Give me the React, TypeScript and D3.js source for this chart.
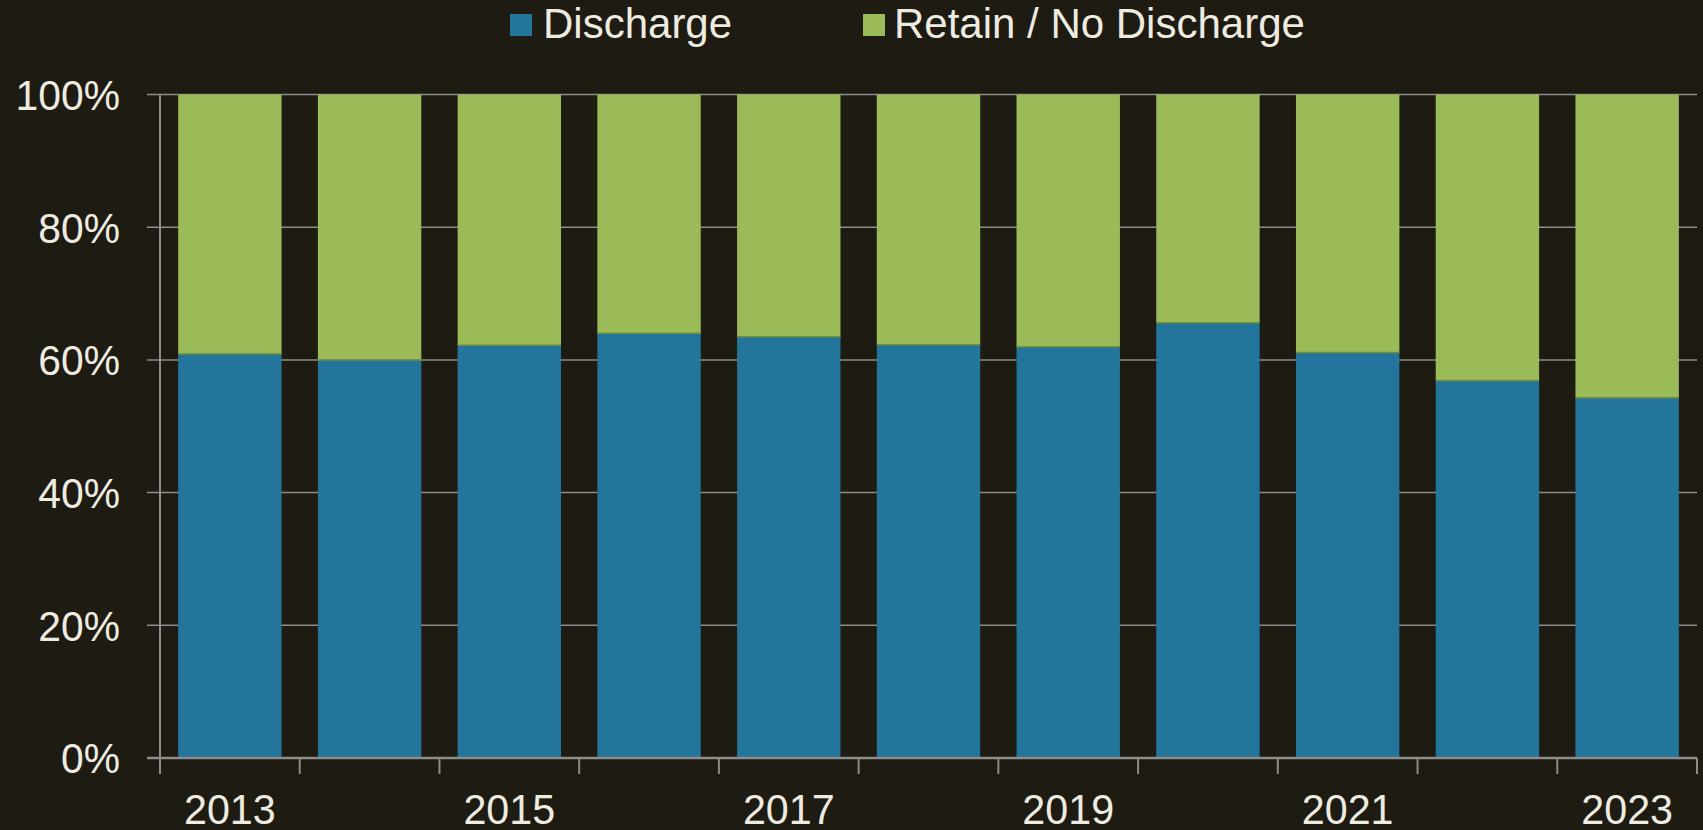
import React from "react";
import * as d3 from "d3";

const years = ["2013", "2014", "2015", "2016", "2017", "2018", "2019", "2020", "2021", "2022", "2023"];
const discharge = [60.9, 60.0, 62.2, 64.0, 63.5, 62.3, 62.0, 65.6, 61.1, 56.9, 54.3];
const yTicks = [0, 20, 40, 60, 80, 100];
const xLabelYears = ["2013", "2015", "2017", "2019", "2021", "2023"];
const seriesNames = ["Discharge", "Retain / No Discharge"];

const W = 1703;
const H = 830;
const BG = "#1e1b12";
const BLUE = "#23759b";
const GREEN = "#9bbb59";
const TEXT = "#eeece1";
const GRID = "#8c8c8c";
const FONT = "'Liberation Sans', Arial, sans-serif";

export default function App() {
  const left = 160;
  const right = 1697;
  const top = 94.5;
  const bottom = 758;

  const x = d3.scaleBand<string>().domain(years).range([left, right]).paddingInner(0.26).paddingOuter(0.13);
  const y = d3.scaleLinear().domain([0, 100]).range([bottom, top]);
  const step = x.step();
  const boundaries = d3.range(years.length + 1).map((i) => left + i * step);

  return (
    <svg width={W} height={H} style={{ position: "absolute", left: 0, top: 0, display: "block" }}>
      <rect x={0} y={0} width={W} height={H} fill={BG} />
      {/* gridlines */}
      {yTicks.filter((t) => t > 0).map((t) => (
        <line key={"g" + t} x1={left - 13} x2={right} y1={y(t)} y2={y(t)} stroke={GRID} strokeWidth={1.5} />
      ))}
      {/* bars */}
      {years.map((yr, i) => (
        <g key={yr}>
          <rect x={x(yr)} width={x.bandwidth()} y={y(discharge[i])} height={y(0) - y(discharge[i])} fill={BLUE} />
          <rect
            x={x(yr)}
            width={x.bandwidth()}
            y={y(100)}
            height={y(discharge[i]) - y(100)}
            fill={GREEN}
          />
          <line
            x1={x(yr)}
            x2={(x(yr) as number) + x.bandwidth()}
            y1={y(discharge[i])}
            y2={y(discharge[i])}
            stroke="#6f8f3c"
            strokeWidth={1.5}
          />
        </g>
      ))}
      {/* y axis */}
      <line x1={left} x2={left} y1={top} y2={bottom} stroke={GRID} strokeWidth={2} />
      {yTicks.map((t) => (
        <text
          key={"yl" + t}
          transform={`translate(${left - 40},${y(t)}) scale(0.95,1)`}
          dy="0.36em"
          textAnchor="end"
          fill={TEXT}
          fontFamily={FONT}
          fontSize={43}
        >
          {t + "%"}
        </text>
      ))}
      {/* x axis */}
      <line x1={left - 13} x2={right} y1={bottom} y2={bottom} stroke={GRID} strokeWidth={2.5} />
      {boundaries.map((b, i) => (
        <line key={"xt" + i} x1={b} x2={b} y1={bottom} y2={bottom + 16} stroke={GRID} strokeWidth={2} />
      ))}
      {xLabelYears.map((yr) => (
        <text
          key={"xl" + yr}
          transform={`translate(${(x(yr) as number) + x.bandwidth() / 2},824) scale(0.96,1)`}
          textAnchor="middle"
          fill={TEXT}
          fontFamily={FONT}
          fontSize={43}
        >
          {yr}
        </text>
      ))}
      {/* legend */}
      <rect x={510} y={14} width={22} height={22} fill={BLUE} />
      <text x={543} y={38} fill={TEXT} fontFamily={FONT} fontSize={42}>
        {seriesNames[0]}
      </text>
      <rect x={863} y={14} width={22} height={22} fill={GREEN} />
      <text x={894} y={38} fill={TEXT} fontFamily={FONT} fontSize={42}>
        {seriesNames[1]}
      </text>
    </svg>
  );
}
